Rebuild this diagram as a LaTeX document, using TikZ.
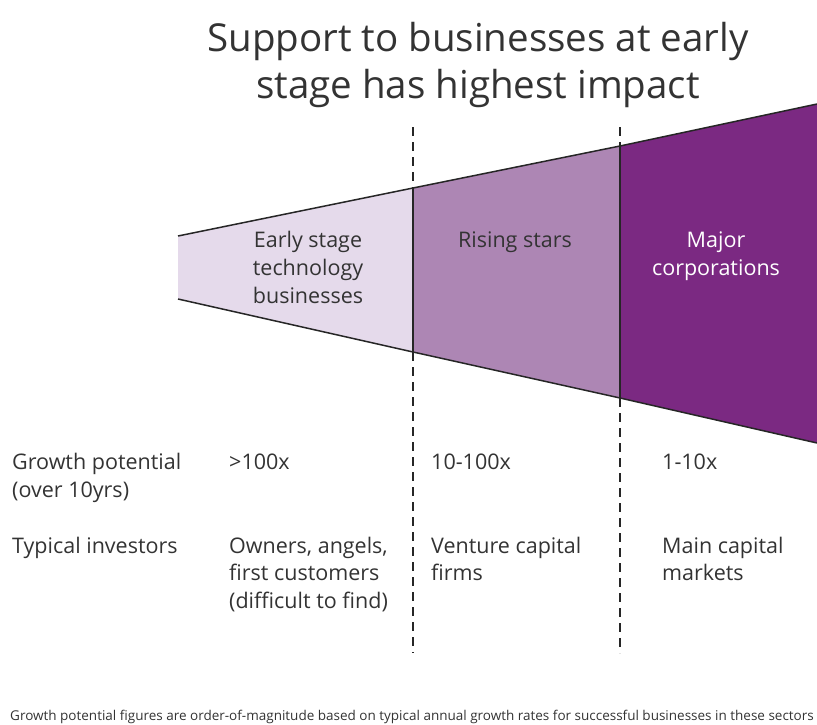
\documentclass[tikz,border=0pt]{standalone}
\usepackage{fontspec}
\setmainfont{Open Sans}
\definecolor{earlyfill}{HTML}{E5DAEB}
\definecolor{risingfill}{HTML}{AD86B4}
\definecolor{majorfill}{HTML}{7B2982}
\definecolor{inkgray}{HTML}{333333}

\begin{document}
\begin{tikzpicture}[x=1pt, y=-1pt,
    txt/.style={inner sep=0pt, text=inkgray, font=\fontsize{21.5}{27.7}\selectfont},
    rowtxt/.style={txt, anchor=base west, align=left},
    stagetxt/.style={txt, anchor=base, align=center},
    edge/.style={draw=black!85, line width=1.5pt},
    guide/.style={draw=black!85, line width=1.5pt, dash pattern=on 9pt off 6pt}]
  %\draw[help lines] (0,0) grid[step=50] (817,724);
  \useasboundingbox (0,0) rectangle (817,724);

  % funnel corners
  \coordinate (lt) at (178,236);
  \coordinate (lb) at (178,299);
  \coordinate (m1t) at (413,188);
  \coordinate (m1b) at (413,352);
  \coordinate (m2t) at (620,146);
  \coordinate (m2b) at (620,398);
  \coordinate (rt) at (817,104);
  \coordinate (rb) at (817,443);
  % ends of the dashed guides
  \coordinate (g1t) at (413,127);
  \coordinate (g1b) at (413,653);
  \coordinate (g2t) at (620,127);
  \coordinate (g2b) at (620,653);

  \fill[earlyfill] (lt) -- (m1t) -- (m1b) -- (lb) -- cycle;
  \fill[risingfill] (m1t) -- (m2t) -- (m2b) -- (m1b) -- cycle;
  \fill[majorfill] (m2t) -- (rt) -- (rb) -- (m2b) -- cycle;
  \draw[edge] (lt) -- (m1t) -- (m2t) -- (rt);
  \draw[edge] (lb) -- (m1b) -- (m2b) -- (rb);
  \draw[edge] (m1t) -- (m1b);
  \draw[edge] (m2t) -- (m2b);
  \draw[guide] (g1t) -- (m1t);
  \draw[guide] (m1b) -- (g1b);
  \draw[guide] (g2t) -- (m2t);
  \draw[guide] (m2b) -- (g2b);

  % base anchors below sit on the last line of each text
  \node[txt, font=\fontsize{38.5}{46.5}\selectfont, anchor=base, align=center] (title) at (478,98) {Support to businesses at early\\stage has highest impact};

  \node[stagetxt] (early) at (308,303) {Early stage\\technology\\businesses};
  \node[stagetxt] (rising) at (515,247.6) {Rising stars};
  \node[stagetxt, text=white] (major) at (716,275.3) {Major\\corporations};

  \node[rowtxt] (growthlbl) at (12,497) {Growth potential\\(over 10yrs)};
  \node[rowtxt] (growthearly) at (229,469.3) {>100x};
  \node[rowtxt] (growthrising) at (431,469.3) {10-100x};
  \node[rowtxt] (growthmajor) at (662,469.3) {1-10x};

  \node[rowtxt] (investlbl) at (12,553) {Typical investors};
  \node[rowtxt] (investearly) at (229,608.4) {Owners, angels,\\first customers\\(difficult to find)};
  \node[rowtxt] (investrising) at (431,580.7) {Venture capital\\firms};
  \node[rowtxt] (investmajor) at (662,580.7) {Main capital\\markets};

  \node[txt, font=\fontsize{13.5}{16}\selectfont, anchor=base] (note) at (412,720) {Growth potential figures are order-of-magnitude based on typical annual growth rates for successful businesses in these sectors};
\end{tikzpicture}
\end{document}
